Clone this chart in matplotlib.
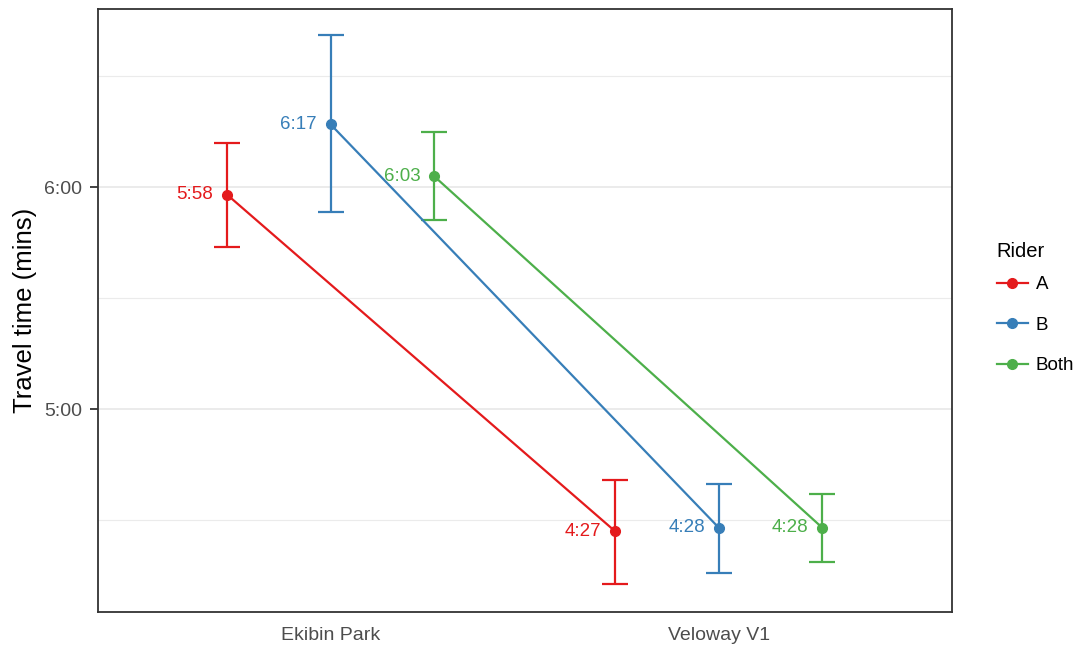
import matplotlib
matplotlib.use("Agg")
import matplotlib.pyplot as plt
from matplotlib.ticker import FixedLocator, FuncFormatter
import numpy as np

plt.rcParams["font.family"] = ["Liberation Sans", "DejaVu Sans"]

# Data: mean travel time (seconds) and interval bounds (minutes) per rider and route
routes = ["Ekibin Park", "Veloway V1"]
riders = ["A", "B", "Both"]
colors = ["#E41A1C", "#377EB8", "#4DAF4A"]

mean_seconds = {
    "A": [358, 267],
    "B": [377, 268],
    "Both": [363, 268],
}
upper_mins = {
    "A": [6.198, 4.682],
    "B": [6.687, 4.665],
    "Both": [6.250, 4.617],
}
lower_mins = {
    "A": [5.732, 4.213],
    "B": [5.887, 4.263],
    "Both": [5.851, 4.314],
}

y_major = [5.0, 6.0]
y_minor = [4.5, 5.5, 6.5]


def mmss(seconds):
    s = int(round(seconds))
    return f"{s // 60}:{s % 60:02d}"


fig = plt.figure(figsize=(10.91, 6.46), dpi=100)
ax = fig.add_axes([0.0896, 0.0526, 0.8723 - 0.0896, 0.986 - 0.0526])

dodge_width = 0.8
n = len(riders)
base_x = np.arange(1, len(routes) + 1)

handles = []
for i, (rider, col) in enumerate(zip(riders, colors)):
    offset = (i - (n - 1) / 2) * dodge_width / n
    xs = base_x + offset
    means = np.array(mean_seconds[rider]) / 60.0
    hi = np.array(upper_mins[rider])
    lo = np.array(lower_mins[rider])
    ax.errorbar(xs, means, yerr=[means - lo, hi - means], fmt="none",
                ecolor=col, elinewidth=1.6, capsize=9.2, capthick=1.6, zorder=3)
    line, = ax.plot(xs, means, color=col, lw=1.6, marker="o", markersize=7,
                    zorder=4, label=rider)
    handles.append(line)
    for x, y, s in zip(xs, means, mean_seconds[rider]):
        ax.annotate(mmss(s), (x, y), xytext=(-10, 0), textcoords="offset points",
                    ha="right", va="center", color=col, fontsize=13.5, zorder=5)

ax.set_xlim(0.4, 2.6)
ax.set_ylim(4.087, 6.803)
ax.set_xticks(base_x)
ax.set_xticklabels(routes)
ax.yaxis.set_major_locator(FixedLocator(y_major))
ax.yaxis.set_minor_locator(FixedLocator(y_minor))
ax.yaxis.set_major_formatter(FuncFormatter(lambda v, p: mmss(v * 60)))

ax.grid(axis="y", which="major", color="#EBEBEB", lw=1.4, zorder=0)
ax.grid(axis="y", which="minor", color="#EBEBEB", lw=0.8, zorder=0)
ax.set_axisbelow(True)

ax.tick_params(axis="x", length=0, pad=11, labelsize=14, labelcolor="#4D4D4D")
ax.tick_params(axis="y", which="major", length=6, width=1.3, color="#333333",
               pad=5.5, labelsize=14, labelcolor="#4D4D4D")
ax.tick_params(axis="y", which="minor", length=0)

for sp in ax.spines.values():
    sp.set_color("#333333")
    sp.set_linewidth(1.3)

ax.set_ylabel("Travel time (mins)", fontsize=18.5, labelpad=5)

leg = fig.legend(handles=handles, title="Rider", loc="upper left",
                 bbox_to_anchor=(0.898, 0.652), frameon=False, fontsize=13.5,
                 title_fontsize=14.5, handlelength=1.65, handletextpad=0.45,
                 labelspacing=1.25, alignment="left")
# tighter gap between the legend title and its first entry
leg._legend_box.sep = 11

fig.savefig("out.png", dpi=100)
